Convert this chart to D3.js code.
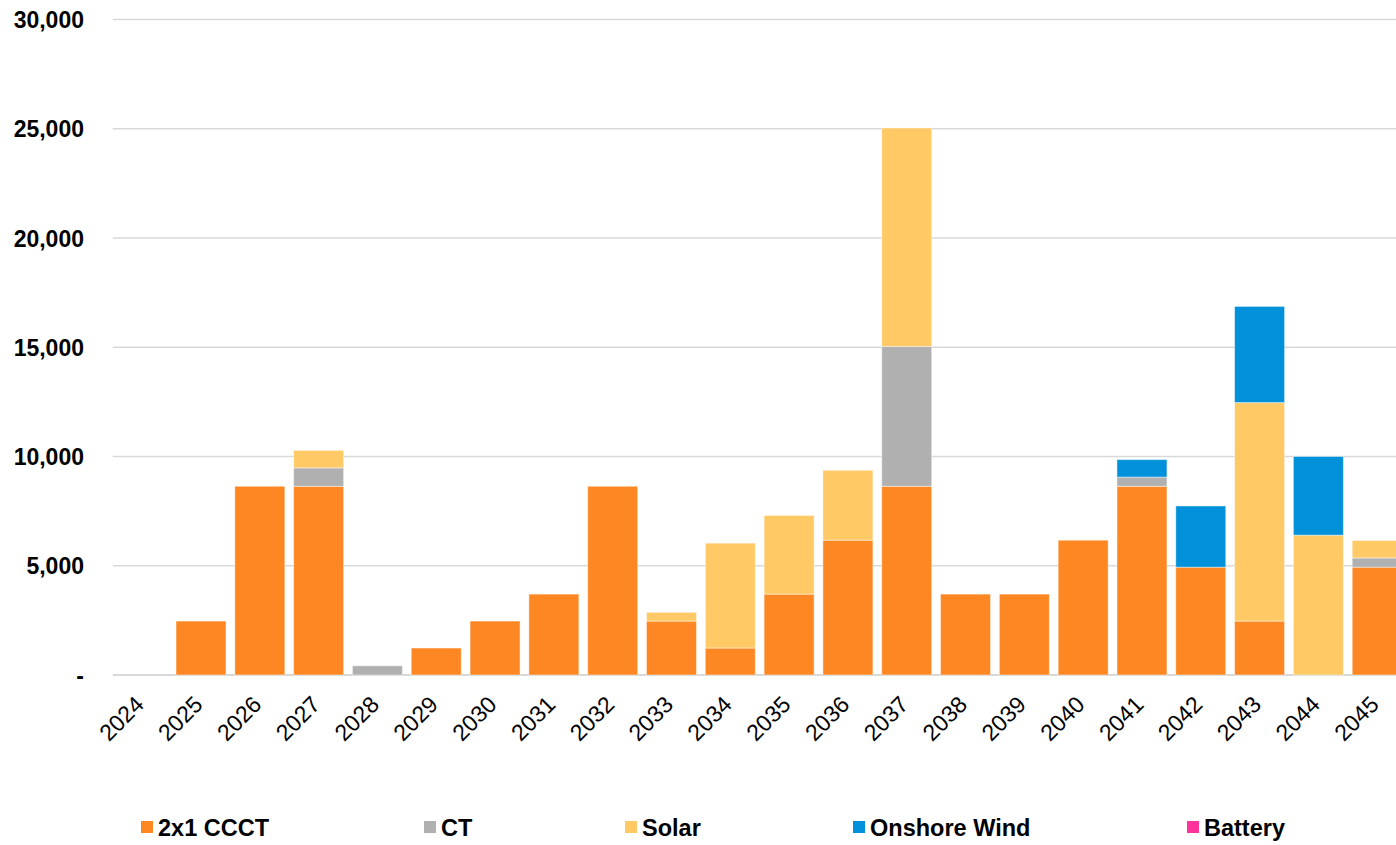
<!DOCTYPE html>
<html>
<head>
<meta charset="utf-8">
<script src="https://cdn.jsdelivr.net/npm/d3@7"></script>
<style>
  html, body { margin: 0; padding: 0; background: #fff; }
  svg { display: block; }
</style>
</head>
<body>
<svg id="chart" width="1396" height="845"></svg>
<script>
// Capacity additions by year and resource type
const years = ["2024","2025","2026","2027","2028","2029","2030","2031","2032","2033","2034",
               "2035","2036","2037","2038","2039","2040","2041","2042","2043","2044","2045"];
const ccct    = [0, 2468, 8638, 8638, 0, 1234, 2468, 3702, 8638, 2468, 1234,
                 3702, 6170, 8638, 3702, 3702, 6170, 8638, 4936, 2468, 0, 4936];
const ct      = [0, 0, 0, 842, 421, 0, 0, 0, 0, 0, 0,
                 0, 0, 6400, 0, 0, 0, 421, 0, 0, 0, 421];
const solar   = [0, 0, 0, 800, 0, 0, 0, 0, 0, 400, 4800,
                 3600, 3200, 10000, 0, 0, 0, 0, 0, 10000, 6400, 800];
const wind    = [0, 0, 0, 0, 0, 0, 0, 0, 0, 0, 0,
                 0, 0, 0, 0, 0, 0, 800, 2800, 4400, 3600, 0];
const battery = [0, 0, 0, 0, 0, 0, 0, 0, 0, 0, 0,
                 0, 0, 0, 0, 0, 0, 0, 0, 0, 0, 0];
const seriesNames = ["2x1 CCCT", "CT", "Solar", "Onshore Wind", "Battery"];
const seriesColors = ["#FD8722", "#B0B0B0", "#FFC966", "#0091DA", "#FF3399"];
const yTicks = [0, 5000, 10000, 15000, 20000, 25000, 30000];

const seriesValues = [ccct, ct, solar, wind, battery];
const table = years.map((y, i) => {
  const row = { year: y };
  seriesNames.forEach((n, k) => row[n] = seriesValues[k][i]);
  return row;
});
const stacked = d3.stack().keys(seriesNames)(table);

const svg = d3.select("#chart");
const x = d3.scaleBand().domain(years).range([112.8, 1406.6]).paddingInner(0.15).paddingOuter(0.075);
const y = d3.scaleLinear().domain([0, 30000]).range([675, 19.5]);

// gridlines
svg.append("g")
  .selectAll("line")
  .data(yTicks)
  .join("line")
  .attr("x1", 112.8).attr("x2", 1396)
  .attr("y1", d => y(d)).attr("y2", d => y(d))
  .attr("stroke", "#D9D9D9")
  .attr("stroke-width", d => d === 0 ? 2 : 1.5);

// y axis labels
const yAxis = d3.axisLeft(y).tickValues(yTicks)
  .tickSize(0).tickPadding(0)
  .tickFormat(d => d === 0 ? "-" : d3.format(",")(d));
svg.append("g")
  .attr("transform", "translate(84,0)")
  .call(yAxis)
  .call(g => g.select(".domain").remove())
  .selectAll("text")
  .attr("font-family", "Liberation Sans, Arial, sans-serif")
  .attr("font-weight", "bold")
  .attr("font-size", 23)
  .attr("fill", "#000")
  .attr("dy", "0.35em");

// stacked bars
svg.append("g")
  .selectAll("g")
  .data(stacked)
  .join("g")
  .attr("fill", (d, i) => seriesColors[i])
  .selectAll("rect")
  .data(d => d.filter(s => s[1] - s[0] > 0))
  .join("rect")
  .attr("x", d => x(d.data.year))
  .attr("width", x.bandwidth())
  .attr("y", d => y(d[1]))
  .attr("height", d => y(d[0]) - y(d[1]))
  .attr("stroke", "rgba(255,255,255,0.45)")
  .attr("stroke-width", 1);

// x axis labels
const xAxis = d3.axisBottom(x).tickSize(0).tickPadding(0);
svg.append("g")
  .attr("transform", "translate(0,675)")
  .call(xAxis)
  .call(g => g.select(".domain").remove())
  .selectAll("text")
  .attr("font-family", "Liberation Sans, Arial, sans-serif")
  .attr("font-size", 23)
  .attr("fill", "#000")
  .attr("text-anchor", "end")
  .attr("dy", null)
  .attr("y", null)
  .attr("transform", "translate(3,31) rotate(-45)");

// legend
const legendX = [141, 424, 625, 853, 1187];
const legend = svg.append("g").selectAll("g")
  .data(seriesNames)
  .join("g")
  .attr("transform", (d, i) => `translate(${legendX[i]},821)`);
legend.append("rect")
  .attr("width", 12).attr("height", 12)
  .attr("fill", (d, i) => seriesColors[i]);
legend.append("text")
  .attr("x", 17).attr("y", 14.5)
  .attr("font-family", "Liberation Sans, Arial, sans-serif")
  .attr("font-weight", "bold")
  .attr("font-size", 23.5)
  .attr("fill", "#000")
  .text(d => d);
</script>
</body>
</html>
